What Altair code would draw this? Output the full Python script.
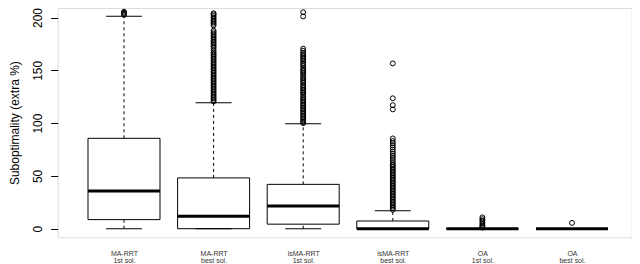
import altair as alt
import pandas as pd

# ---- data ----
labels = ["MA-RRT\n1st sol.", "MA-RRT\nbest sol.", "isMA-RRT\n1st sol.",
          "isMA-RRT\nbest sol.", "OA\n1st sol.", "OA\nbest sol."]
q1 = [8.6, 0.0, 4.3, 0.0, 0.0, 0.0]
median = [35.6, 11.9, 21.4, 0.0, 0.0, 0.0]
q3 = [85.6, 48.1, 42.0, 7.3, 0.0, 0.0]
whisker_lo = [0.0, 0.0, 0.0, 0.0, 0.0, 0.0]
whisker_hi = [201.3, 119.2, 99.3, 17.1, 0.0, 0.0]

out_ma_first = [202.5, 203.5, 204.5, 205.5]
out_ma_best = [204, 203, 201.5, 200, 198.5, 197, 195.5, 194, 192.5,
               187.5, 186, 184.5, 183, 181.5, 180, 178.5, 177, 175.5, 174,
               172.5, 171, 169, 167, 165.5, 164, 162.5, 161, 159.5, 158,
               156.5, 155, 153.5, 152, 150.5, 149, 147.5, 146, 144.5, 143,
               141.5, 140, 138.5, 137, 135.5, 134, 132.5, 131, 129.5, 128,
               126.5, 125, 123.5, 122, 120.5]
out_isma_first = [205, 201, 170.5, 168.5, 166.5, 165, 163.5, 162, 160.5, 159,
                  157, 155.5, 154, 152, 150.5, 149, 147.5, 146, 144, 142.5,
                  141, 139.5, 138, 136, 134.5, 133, 131.5, 130, 128.5, 127,
                  125, 123.5, 122, 120.5, 119, 117.5, 116, 114.5, 113, 111.5,
                  110, 108.5, 107, 105.5, 104, 102.5, 101, 100]
out_isma_best = [156.5, 123.5, 117, 113, 85.5, 83, 81, 79, 77, 75, 73, 71, 69,
                 67, 65, 63, 61, 60, 58.5, 57, 55.5, 54, 52.5, 51, 49.5, 48,
                 46.5, 45, 43.5, 42, 40.5, 39, 37.5, 36, 34.5, 33, 31.5, 30,
                 28.5, 27, 25.5, 24, 22.5, 21, 19.5, 18]
out_oa_first = [10.7, 9, 7.5, 6, 4.5, 3, 2, 1]
out_oa_best = [5.5]

y_ticks = [0, 50, 100, 150, 200]
y_title = "Suboptimality (extra %)"

# ---- tables ----
stats = pd.DataFrame({"cat": labels, "q1": q1, "med": median, "q3": q3,
                      "lo": whisker_lo, "hi": whisker_hi})
out_lists = [out_ma_first, out_ma_best, out_isma_first, out_isma_best,
             out_oa_first, out_oa_best]
outdf = pd.DataFrame([(c, v) for c, vals in zip(labels, out_lists) for v in vals],
                     columns=["cat", "v"])

W, H = 574.0, 229.3
STEP = 89.6
FIRST = 66.3
FONT = "Liberation Sans"

xenc = alt.X("cat:N", sort=labels,
             scale=alt.Scale(type="point", padding=0, round=False,
                             range=[FIRST, FIRST + 5 * STEP]),
             axis=alt.Axis(title=None, labelAngle=0, ticks=False, domain=False,
                           labelExpr="split(datum.label, '\\n')",
                           labelFont=FONT, labelFontSize=7, labelLineHeight=7,
                           labelPadding=12, labelColor="#333"))
yscale = alt.Scale(domain=[-8.14, 209.0], nice=False, zero=False)
yaxis = alt.Axis(title=y_title, values=y_ticks, grid=False, domain=False,
                 tickSize=7, tickColor="black", tickWidth=1,
                 labelAngle=270, labelAlign="center", labelBaseline="bottom",
                 labelPadding=6, labelFont=FONT, labelFontSize=12,
                 labelColor="black",
                 titleX=-42.7, titleY=H / 2, titleAngle=270,
                 titleAlign="center", titleBaseline="middle",
                 titleFont=FONT, titleFontSize=12, titleFontWeight="normal",
                 titleColor="black")

base = alt.Chart(stats)

whisk_up = base.mark_rule(color="black", strokeWidth=1, strokeDash=[3, 3]).encode(
    x=xenc, y=alt.Y("q3:Q", scale=yscale, axis=yaxis), y2="hi:Q")
whisk_lo = base.mark_rule(color="black", strokeWidth=1, strokeDash=[3, 3]).encode(
    x=xenc, y=alt.Y("lo:Q", scale=yscale, axis=yaxis), y2="q1:Q")
box = base.mark_bar(size=72, fill="white", fillOpacity=0, stroke="black",
                    strokeWidth=1).encode(
    x=xenc, y=alt.Y("q1:Q", scale=yscale, axis=yaxis), y2="q3:Q")
med = base.mark_tick(size=72, thickness=3, color="black", opacity=1).encode(
    x=xenc, y=alt.Y("med:Q", scale=yscale, axis=yaxis))
staple_hi = base.mark_tick(size=36, thickness=1, color="black", opacity=1).encode(
    x=xenc, y=alt.Y("hi:Q", scale=yscale, axis=yaxis))
staple_lo = base.mark_tick(size=36, thickness=1, color="black", opacity=1).encode(
    x=xenc, y=alt.Y("lo:Q", scale=yscale, axis=yaxis))
outl = alt.Chart(outdf).mark_point(shape="circle", filled=False, size=24,
                                   strokeWidth=1, color="black", opacity=1).encode(
    x=xenc, y=alt.Y("v:Q", scale=yscale, axis=yaxis))

chart = alt.layer(whisk_up, whisk_lo, box, med, staple_hi, staple_lo, outl).properties(
    width=W, height=H,
    autosize=alt.AutoSizeParams(type="none"),
    padding={"left": 49.7, "top": 0, "right": 0, "bottom": 28},
).configure_view(stroke="black", strokeWidth=1).configure(background="white")

chart.save("out.html", embed_options={"renderer": "svg", "actions": False})
